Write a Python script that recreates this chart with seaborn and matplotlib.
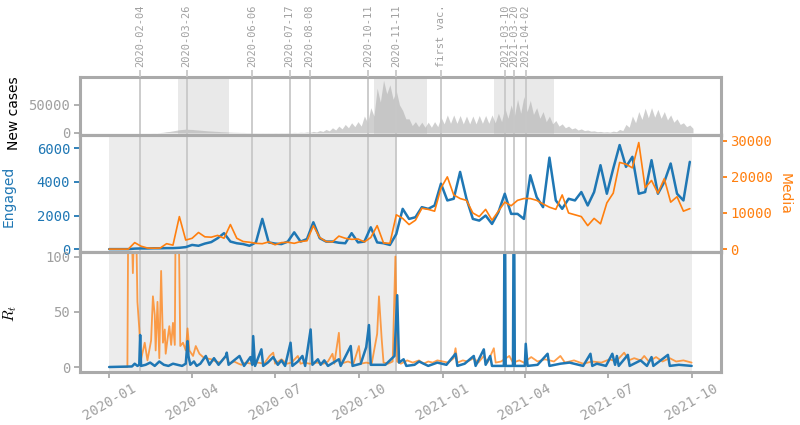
import seaborn as sns
import matplotlib.pyplot as plt
import matplotlib.dates as mdates
import pandas as pd

# weekly samples, 2020-01-01 .. 2021-09-29
weeks = pd.date_range('2020-01-01', periods=92, freq='7D')

cases_peak = [0, 0, 0, 0, 0, 0, 0, 100, 500, 2000, 3500, 5500,
              6600, 6000, 5000, 4000, 3200, 2500, 1800, 1200, 900, 700, 500, 400,
              400, 400, 450, 500, 600, 800, 1000, 1500, 2500, 4000, 6000, 9000,
              12000, 15000, 18000, 20000, 30000, 45000, 80000, 94000, 86000, 75000, 40000, 25000,
              20000, 19000, 19000, 20000, 28000, 32000, 32000, 31000, 30000, 30000, 31000, 31000,
              32000, 35000, 45000, 50000, 60000, 65000, 58000, 45000, 38000, 30000, 22000, 16000,
              12000, 9000, 7000, 5000, 3500, 2500, 2000, 3000, 6000, 15000, 30000, 38000,
              44000, 45000, 42000, 38000, 32000, 25000, 18000, 14000]
cases_low = [0, 0, 0, 0, 0, 0, 0, 50, 1000, 2500, 4500, 6000,
             6200, 5500, 4500, 3500, 2800, 2000, 1500, 1000, 700, 500, 400, 300,
             300, 300, 350, 400, 400, 500, 700, 900, 1500, 2500, 3500, 5000,
             7000, 9000, 11000, 12000, 18000, 30000, 55000, 70000, 60000, 50000, 25000, 13000,
             11000, 10000, 10000, 11000, 16000, 17000, 17000, 16000, 16000, 16000, 17000, 17000,
             18000, 20000, 26000, 30000, 35000, 38000, 33000, 26000, 20000, 16000, 12000, 9000,
             7000, 5000, 4000, 3000, 2000, 1500, 1200, 2000, 4000, 10000, 18000, 24000,
             27000, 28000, 26000, 23000, 19000, 15000, 11000, 8000]

engaged = [0, 0, 0, 0, 30, 40, 40, 50, 50, 60, 60, 80,
           120, 250, 200, 330, 420, 650, 950, 450, 350, 300, 200, 400,
           1800, 400, 330, 300, 450, 1000, 450, 600, 1600, 650, 450, 450,
           380, 350, 950, 400, 450, 1300, 400, 350, 250, 900, 2400, 1800,
           1900, 2500, 2400, 2600, 3900, 2900, 3000, 4600, 3000, 1800, 1700, 2000,
           1500, 2200, 3300, 2100, 2100, 1800, 4400, 3100, 2500, 5450, 2900, 2400,
           3000, 2900, 3400, 2600, 3400, 5000, 3300, 4800, 6200, 4900, 5500, 3300,
           3400, 5300, 3300, 4000, 5100, 3300, 2900, 5200]
media = [0, 0, 0, 0, 1800, 800, 300, 250, 300, 1500, 1100, 9000,
         2500, 3000, 4600, 3400, 3300, 3800, 3000, 6800, 3000, 2100, 1900, 1600,
         1500, 2000, 1200, 1800, 1900, 1600, 2100, 2300, 6500, 3200, 2100, 2000,
         3600, 3000, 2700, 2800, 2000, 3200, 6500, 1700, 1600, 9500, 8500, 6800,
         8000, 11300, 11000, 10500, 16900, 20000, 15000, 14000, 13500, 10000, 9000, 11000,
         8000, 10500, 13000, 12000, 13500, 14000, 14000, 13500, 12500, 11600, 11000, 15000,
         10000, 9500, 9000, 6500, 8500, 7000, 12800, 15500, 24000, 23500, 22500, 29500,
         17000, 19000, 15500, 19500, 13000, 14500, 10500, 11200]

# R_t, (day since 2020-01-01, value)
rt_engaged_pts = [(0, 0), (25, 0.5), (28, 3), (31, 1), (33, 2), (34, 29), (35, 1), (40, 2), (45, 4),
                  (50, 1), (55, 5), (60, 2), (65, 1), (70, 3), (80, 1), (84, 3), (86, 23.5), (87, 10),
                  (89, 2), (93, 5), (96, 1), (100, 3), (106, 10), (110, 2), (115, 8), (120, 2),
                  (128, 10), (129, 13), (131, 2), (143, 10), (148, 1), (155, 9), (157, 2), (158, 28),
                  (160, 1), (167, 16), (169, 1), (174, 4), (180, 9), (185, 2), (189, 6), (193, 1),
                  (199, 22), (201, 1), (207, 5), (212, 10), (215, 1), (221, 34), (223, 2), (229, 7),
                  (232, 2), (236, 6), (240, 1), (252, 7), (254, 1), (265, 19), (267, 1), (276, 3),
                  (282, 18), (285, 38), (287, 2), (296, 2), (303, 2), (313, 10), (316, 65), (318, 4),
                  (323, 7), (326, 1), (335, 2), (340, 5), (350, 1), (360, 4), (370, 2), (380, 12),
                  (382, 1), (390, 3), (400, 10), (402, 1), (411, 16), (413, 2), (418, 10), (420, 1),
                  (433, 1), (434, 200), (435, 1), (443, 1), (444, 200), (445, 1), (456, 1), (457, 21),
                  (459, 1), (470, 2), (481, 12), (483, 1), (495, 3), (505, 4), (520, 1), (528, 12),
                  (530, 1), (535, 3), (545, 1), (552, 12), (555, 2), (557, 10), (559, 1), (569, 11),
                  (571, 1), (583, 6), (590, 1), (595, 9), (597, 1), (613, 11), (615, 1), (625, 2),
                  (639, 1)]
rt_media_pts = [(0, 0), (20, 0), (21, 150), (24, 150), (26, 85), (28, 150), (30, 110), (31, 59),
                (33, 35), (35, 7), (39, 22), (42, 6), (46, 24), (48, 64), (50, 47), (51, 15),
                (53, 59), (55, 8), (57, 87), (59, 22), (61, 34), (62, 12), (64, 25), (66, 37),
                (68, 20), (70, 40), (72, 20), (73, 150), (76, 150), (78, 19), (81, 22), (84, 15),
                (86, 35), (88, 15), (92, 10), (95, 19), (99, 12), (103, 9), (106, 8), (112, 7),
                (117, 5), (122, 4), (128, 10), (132, 3), (137, 5), (142, 3), (145, 2), (150, 4),
                (156, 3), (163, 4), (170, 3), (176, 10), (180, 13), (182, 3), (189, 7), (195, 3),
                (200, 4), (207, 10), (210, 3), (214, 4), (220, 3), (228, 4), (235, 3), (240, 5),
                (245, 12), (247, 3), (252, 31), (254, 3), (262, 5), (268, 3), (274, 19), (276, 3),
                (282, 4), (288, 3), (294, 30), (296, 64), (299, 25), (301, 4), (306, 3), (311, 5),
                (314, 100), (316, 5), (320, 3), (327, 6), (333, 4), (340, 6), (345, 3), (350, 5),
                (355, 4), (360, 6), (366, 5), (372, 4), (378, 8), (380, 17), (382, 4), (388, 6),
                (393, 5), (400, 8), (405, 4), (411, 10), (415, 4), (422, 17), (424, 4), (430, 5),
                (439, 10), (443, 4), (450, 6), (455, 4), (463, 9), (470, 5), (478, 7), (488, 5),
                (495, 10), (500, 4), (510, 6), (520, 3), (530, 5), (540, 4), (549, 7), (556, 5),
                (565, 13), (570, 6), (576, 8), (583, 6), (587, 10), (592, 5), (600, 9), (607, 5),
                (615, 8), (622, 5), (630, 6), (639, 4)]

event_dates = ['2020-02-04', '2020-03-26', '2020-06-06', '2020-07-17', '2020-08-08', '2020-10-11',
               '2020-11-11', '2020-12-30', '2021-03-10', '2021-03-20', '2021-04-02']
event_labels = ['2020-02-04', '2020-03-26', '2020-06-06', '2020-07-17', '2020-08-08', '2020-10-11',
                '2020-11-11', 'first vac.', '2021-03-10', '2021-03-20', '2021-04-02']
lockdowns = [('2020-03-17', '2020-05-11'), ('2020-10-17', '2020-12-15'), ('2021-02-26', '2021-05-03')]
windows = [('2020-01-01', '2020-11-11'), ('2021-06-01', '2021-10-01')]

BLUE = '#1f77b4'
ORANGE = '#ff7f0e'
GRAY = '#aaaaaa'
TXT = '#a0a0a0'

sns.set_theme(style='ticks')
plt.rcParams['font.family'] = ['DejaVu Sans Mono']
plt.rcParams['mathtext.fontset'] = 'cm'

start = pd.Timestamp('2020-01-01')
df_cases = pd.DataFrame({'date': list(weeks) + list(weeks + pd.Timedelta(hours=84)),
                         'cases': cases_peak + cases_low}).sort_values('date')
df_eng = pd.DataFrame({'date': weeks, 'engaged': engaged, 'media': media})
df_rt_e = pd.DataFrame(rt_engaged_pts, columns=['day', 'rt'])
df_rt_e['date'] = start + pd.to_timedelta(df_rt_e['day'], unit='D')
df_rt_m = pd.DataFrame(rt_media_pts, columns=['day', 'rt'])
df_rt_m['date'] = start + pd.to_timedelta(df_rt_m['day'], unit='D')

fig = plt.figure(figsize=(8, 4.25), dpi=100)
gs = fig.add_gridspec(3, 1, height_ratios=[1, 2, 2.05], hspace=0,
                      left=0.1, right=0.901, top=0.819, bottom=0.125)
ax0 = fig.add_subplot(gs[0])
ax1 = fig.add_subplot(gs[1], sharex=ax0)
ax3 = fig.add_subplot(gs[2], sharex=ax0)
ax2 = ax1.twinx()

# shaded periods
for a, b in lockdowns:
    ax0.axvspan(pd.Timestamp(a), pd.Timestamp(b), color='#e9e9e9', lw=0, zorder=0)
for ax in [ax1, ax3]:
    for a, b in windows:
        ax.axvspan(pd.Timestamp(a), pd.Timestamp(b), color='#ececec', lw=0, zorder=0)

# event lines
for ax in [ax0, ax1, ax3]:
    for d in event_dates:
        ax.axvline(pd.Timestamp(d), color='#c8c8c8', lw=1.3, zorder=1.5)

# new cases
ax0.fill_between(df_cases['date'], df_cases['cases'], color='#b0b0b0', alpha=0.6, lw=0, zorder=1)

# engaged / media
sns.lineplot(data=df_eng, x='date', y='engaged', ax=ax1, color=BLUE, lw=1.8)
sns.lineplot(data=df_eng, x='date', y='media', ax=ax2, color=ORANGE, lw=1.2)

# R_t
sns.lineplot(data=df_rt_m, x='date', y='rt', ax=ax3, color=ORANGE, lw=1.3, alpha=0.75)
sns.lineplot(data=df_rt_e, x='date', y='rt', ax=ax3, color=BLUE, lw=1.8)

ax0.set_xlim(pd.Timestamp('2019-11-30'), pd.Timestamp('2021-11-02'))
ax0.set_ylim(-4500, 100000)
ax1.set_ylim(-180, 6780)
ax2.set_ylim(-840, 31500)
ax3.set_ylim(-4.4, 104)
ax0.set_yticks([0, 50000])
ax1.set_yticks([0, 2000, 4000, 6000])
ax2.set_yticks([0, 10000, 20000, 30000])
ax3.set_yticks([0, 50, 100])

ax3.xaxis.set_major_locator(mdates.MonthLocator(bymonth=[1, 4, 7, 10]))
ax3.xaxis.set_major_formatter(mdates.DateFormatter('%Y-%m'))

for ax in [ax0, ax1, ax2, ax3]:
    ax.set_xlabel('')
    ax.set_ylabel('')
    for s in ax.spines.values():
        s.set_color(GRAY)
        s.set_linewidth(2.2)
    ax.tick_params(length=4, width=1.3, color=GRAY, labelcolor=TXT, labelsize=10, pad=3)

ax0.tick_params(labelbottom=False)
ax1.tick_params(labelbottom=False)
ax1.tick_params(axis='y', colors=BLUE)
ax2.tick_params(axis='y', colors=ORANGE)
plt.setp(ax3.get_xticklabels(), rotation=30)

# event labels on top
ax_ev = ax0.twiny()
ax_ev.set_xlim(ax0.get_xlim())
ax_ev.set_xticks(mdates.date2num(pd.to_datetime(event_dates)))
ax_ev.set_xticklabels(event_labels, rotation=90, fontsize=7.5, color=TXT)
ax_ev.tick_params(axis='x', length=5, width=1.3, color='#c8c8c8', pad=2)
for s in ax_ev.spines.values():
    s.set_visible(False)

# axis titles
fig.text(9 / 800, 1 - 196 / 425, 'Engaged', rotation=90, color=BLUE, fontsize=10,
         family='DejaVu Sans', ha='center', va='center')
fig.text(14 / 800, 1 - 113 / 425, 'New cases', rotation=90, color='black', fontsize=10,
         family='DejaVu Sans', ha='center', va='center')
fig.text(10 / 800, 1 - 313 / 425, '$R_t$', rotation=90, color='black', fontsize=11,
         ha='center', va='center')
fig.text(785 / 800, 1 - 194 / 425, 'Media', rotation=270, color=ORANGE, fontsize=10,
         family='DejaVu Sans', ha='center', va='center')

fig.savefig('out.png', dpi=100)
